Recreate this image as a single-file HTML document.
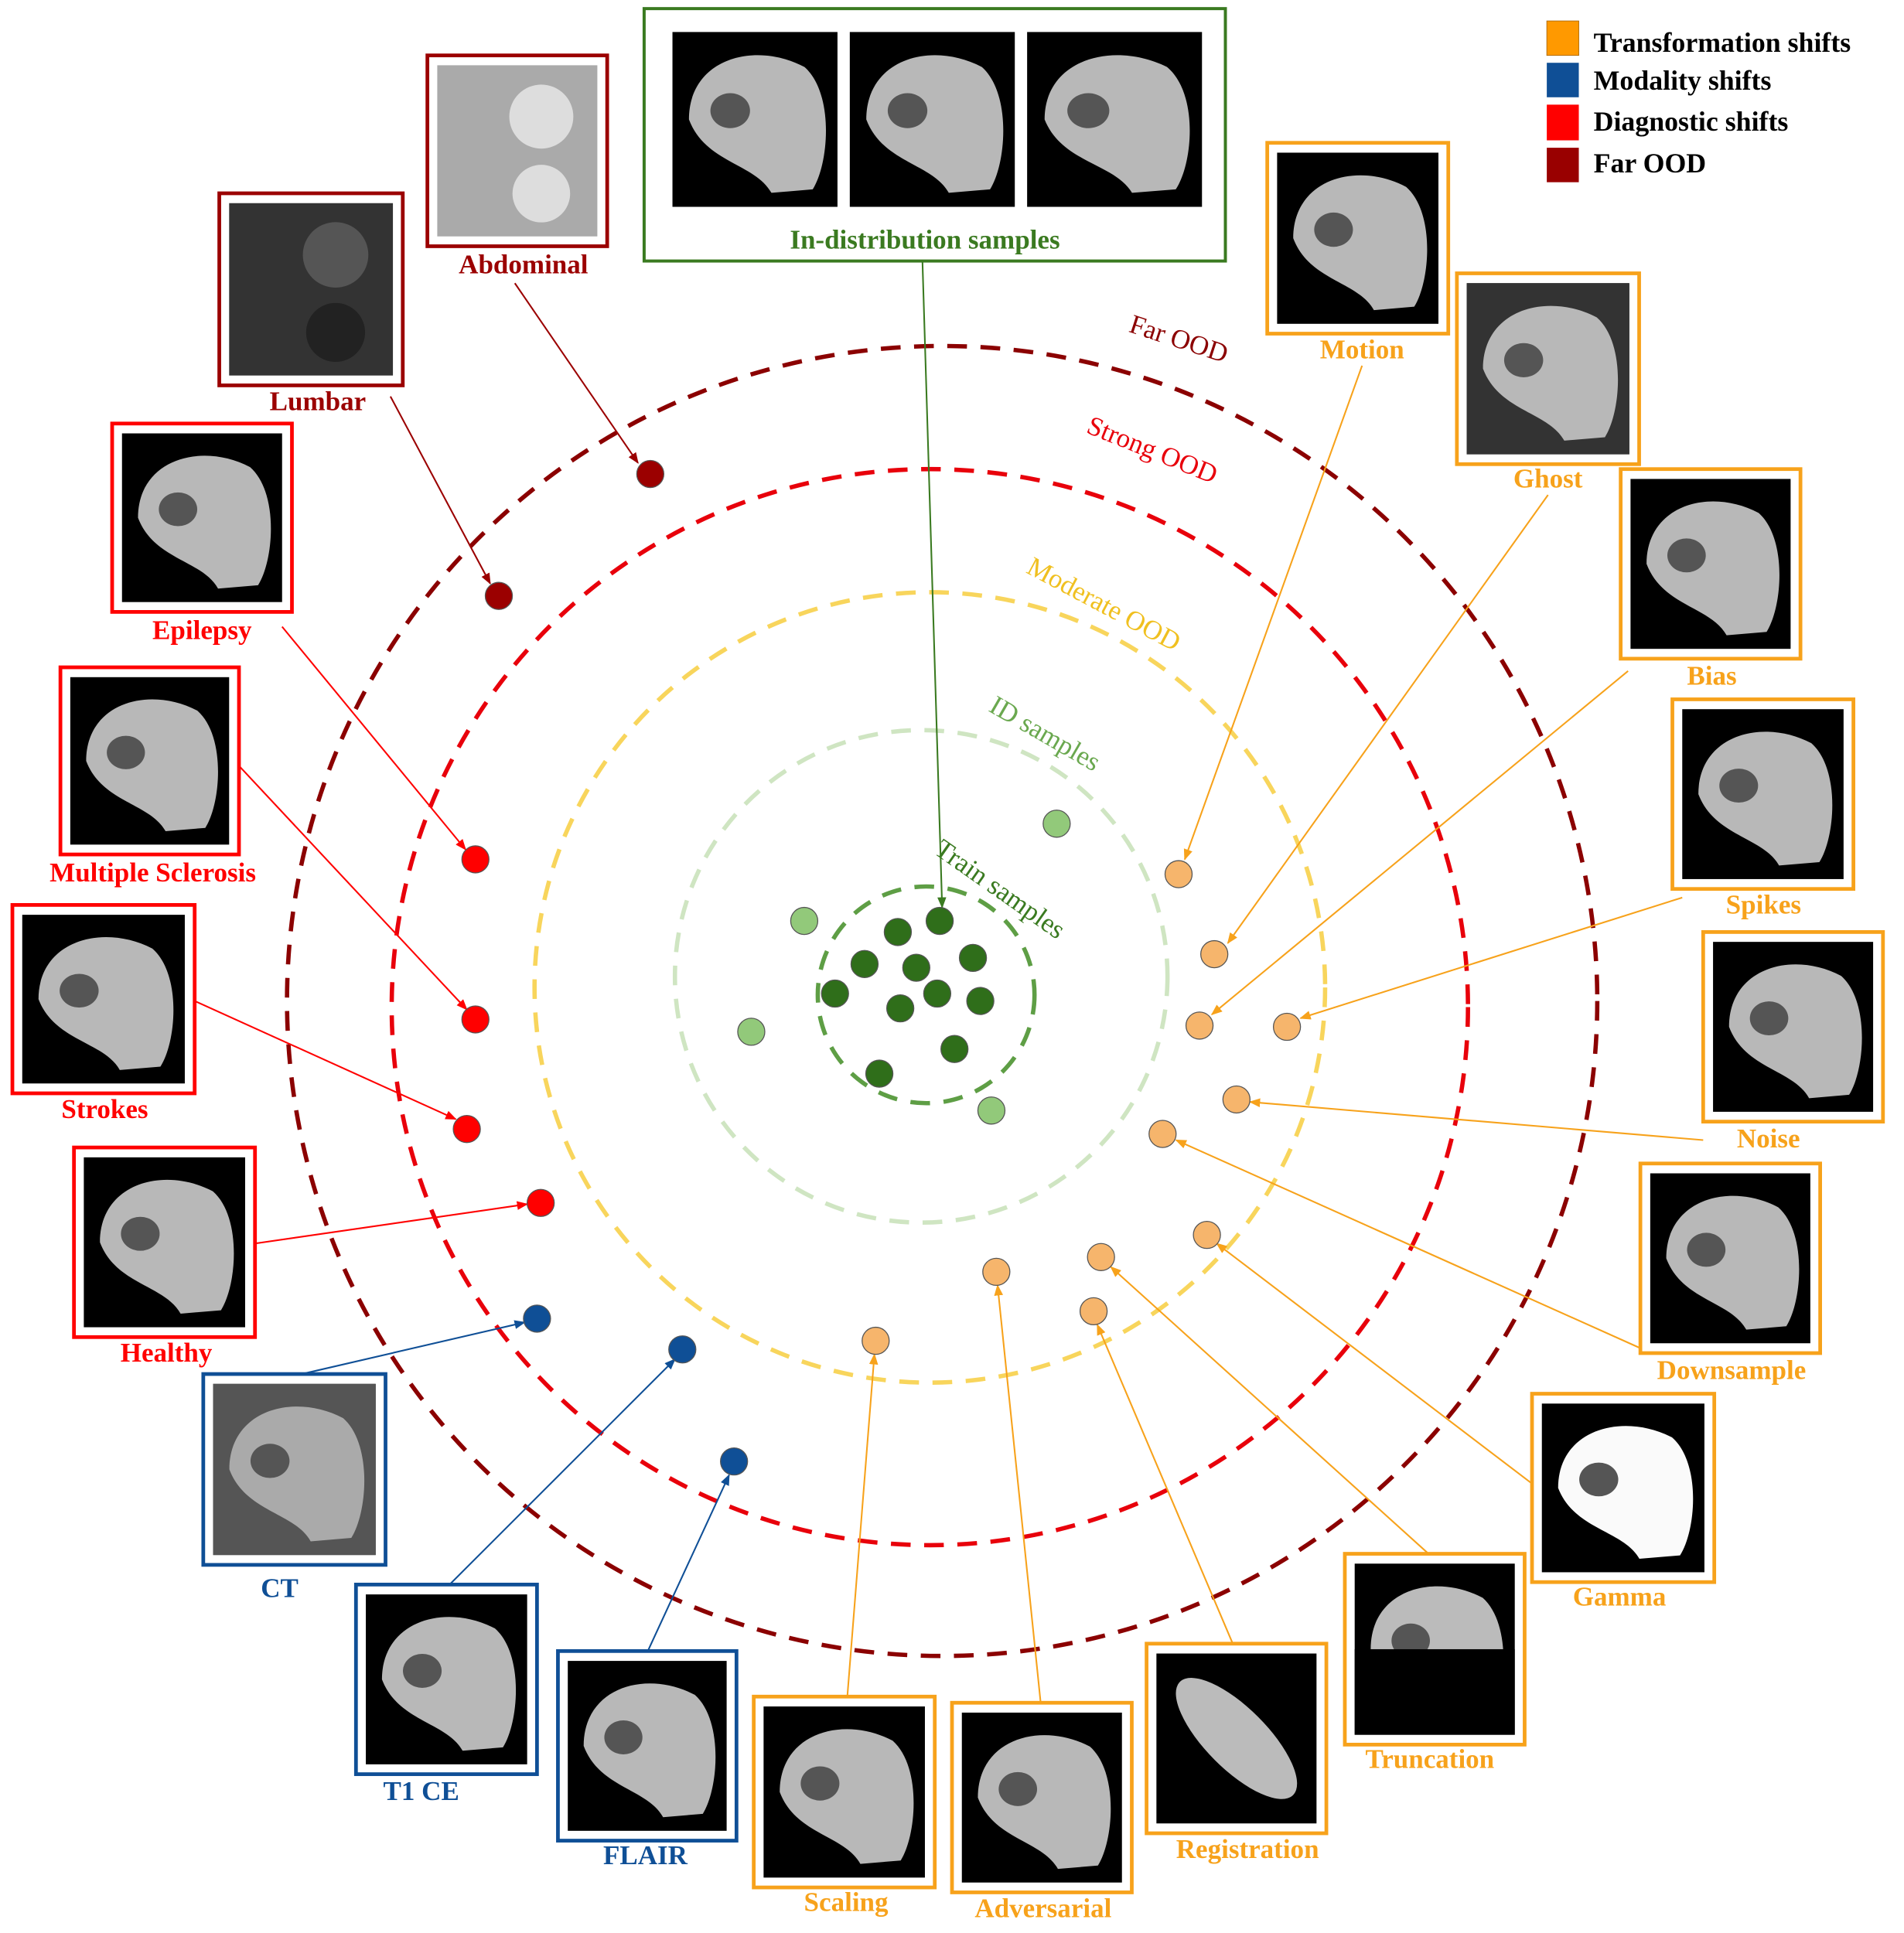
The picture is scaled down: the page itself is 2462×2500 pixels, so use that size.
<!DOCTYPE html>
<html><head><meta charset="utf-8"><style>
html,body{margin:0;padding:0;background:#fff;}
svg{display:block;font-family:"Liberation Serif",serif;}
</style></head><body>
<svg id="fig" width="2462" height="2500" viewBox="0 0 1546 1570" xmlns="http://www.w3.org/2000/svg">
<defs>
<marker id="ah" viewBox="0 0 10 10" refX="9" refY="5" markerWidth="7" markerHeight="7" orient="auto-start-reverse"><path d="M0,1 L10,5 L0,9 z" fill="context-stroke"/></marker>
</defs>
<g id="rings"></g>
<g id="arrows"></g>
<g id="dots"></g>
<g id="thumbs"></g>
<g font-size="22">
<text x="955" y="282" fill="#8b0000" text-anchor="middle" transform="rotate(18 955 282)">Far OOD</text>
<text x="933" y="372" fill="#e8000b" text-anchor="middle" transform="rotate(22 933 372)">Strong OOD</text>
<text x="893" y="497" fill="#f0c020" text-anchor="middle" transform="rotate(28 893 497)">Moderate OOD</text>
<text x="845" y="602" fill="#6aa84f" text-anchor="middle" transform="rotate(30 845 602)">ID samples</text>
<text x="808" y="728" fill="#3a7a20" text-anchor="middle" transform="rotate(35 808 728)">Train samples</text>
</g>
<g font-weight="bold" font-size="22.5" fill="#000">
<rect x="1256" y="17" width="26" height="28" fill="#ff9900" stroke="#a06000" stroke-width="0.5"/>
<text x="1294" y="42">Transformation shifts</text>
<rect x="1256" y="51" width="26" height="28" fill="#0f4f96"/>
<text x="1294" y="73">Modality shifts</text>
<rect x="1256" y="85" width="26" height="29" fill="#ff0000"/>
<text x="1294" y="106">Diagnostic shifts</text>
<rect x="1256" y="120" width="26" height="28" fill="#990000"/>
<text x="1294" y="140">Far OOD</text>
</g>
</svg>
<script>
const NS="http://www.w3.org/2000/svg";
function mk(t,a,p){const e=document.createElementNS(NS,t);for(const k in a)e.setAttribute(k,a[k]);p.appendChild(e);return e;}
const ringNames=["far-ood-ring","strong-ood-ring","moderate-ood-ring","id-ring","train-ring"];
const ringGeom=[[765,813,532],[755,818,437],[755,802,321],[748,793,200],[752,808,88]];
const ringColors=["#8b0000","#e8000b","#f8d55c","#cfe5c2","#5e9e45"];
const rg=document.getElementById('rings');
ringGeom.forEach((g,i)=>{const c=mk('circle',{cx:g[0],cy:g[1],r:g[2],fill:'none',stroke:ringColors[i],'stroke-width':3.5,'stroke-dasharray':'16 11'},rg);

});
const trainDots=[[729,757],[763,748],[702,783],[744,786],[790,778],[678,807],[761,807],[796,813],[731,819],[775,852],[714,872]];
const idDots=[[858,669],[653,748],[610,838],[805,902]];
const transDots=[[957,710],[986,775],[974,833],[1045,834],[1004,893],[944,921],[980,1003],[894,1021],[809,1033],[888,1065],[711,1089]];
const diagDots=[[386,698],[386,828],[379,917],[439,977]];
const farDots=[[528,385],[405,484]];
const modDots=[[436,1071],[554,1096],[596,1187]];
const dg=document.getElementById('dots');
[[trainDots,'#2f6e1a','train'],[idDots,'#92c97a','id'],[transDots,'#f6b56c','transformation'],[diagDots,'#ff0000','diagnostic'],[farDots,'#9b0000','far-ood'],[modDots,'#0f4f96','modality']].forEach(([arr,col,n])=>{
arr.forEach(p=>{const c=mk('circle',{cx:p[0],cy:p[1],r:11,fill:col,stroke:'#555','stroke-width':0.8},dg);

});});
const thumbs=[
["Abdominal",347,45,493,200,425,222,"#9b0000","abd"],
["Lumbar",178,157,327,313,258,333,"#9b0000","lum"],
["Epilepsy",91,344,237,497,164,519,"#ff0000","b"],
["Multiple Sclerosis",49,542,194,694,124,716,"#ff0000","b"],
["Strokes",10,735,158,888,85,908,"#ff0000","b"],
["Healthy",60,932,207,1086,135,1106,"#ff0000","b"],
["CT",165,1116,313,1271,227,1297,"#0f4f96","ct"],
["T1 CE",289,1287,436,1441,342,1462,"#0f4f96","b"],
["FLAIR",453,1341,598,1495,524,1514,"#0f4f96","b"],
["Scaling",612,1378,759,1533,687,1552,"#f7a21b","b"],
["Adversarial",773,1383,919,1537,847,1557,"#f7a21b","b"],
["Registration",931,1335,1077,1489,1013,1509,"#f7a21b","reg"],
["Truncation",1092,1262,1238,1417,1161,1436,"#f7a21b","trunc"],
["Gamma",1244,1132,1392,1285,1315,1304,"#f7a21b","gamma"],
["Downsample",1332,945,1478,1099,1406,1120,"#f7a21b","b"],
["Noise",1383,757,1529,911,1436,932,"#f7a21b","b"],
["Spikes",1358,568,1505,722,1432,742,"#f7a21b","b"],
["Bias",1316,381,1462,535,1390,556,"#f7a21b","b"],
["Ghost",1183,222,1331,377,1257,396,"#f7a21b","ghost"],
["Motion",1029,116,1176,271,1106,291,"#f7a21b","b"]];
const tg=document.getElementById('thumbs');
function brain(g,x,y,w,h,fill){
 mk('path',{d:`M${x+w*0.1},${y+h*0.5} C${x+w*0.1},${y+h*0.15} ${x+w*0.5},${y+h*0.05} ${x+w*0.8},${y+h*0.2} C${x+w*0.98},${y+h*0.35} ${x+w*0.95},${y+h*0.75} ${x+w*0.85},${y+h*0.9} L${x+w*0.6},${y+h*0.92} C${x+w*0.5},${y+h*0.75} ${x+w*0.2},${y+h*0.75} ${x+w*0.1},${y+h*0.5} z`,fill:fill},g);
 mk('ellipse',{cx:x+w*0.35,cy:y+h*0.45,rx:w*0.12,ry:h*0.1,fill:'#555'},g);
}
function image(g,x,y,w,h,type){
 if(type==='abd'||type==='lum'){mk('rect',{x,y,width:w,height:h,fill:type==='abd'?'#aaa':'#333'},g);
  mk('circle',{cx:x+w*0.65,cy:y+h*0.3,r:w*0.2,fill:type==='abd'?'#ddd':'#555'},g);mk('circle',{cx:x+w*0.65,cy:y+h*0.75,r:w*0.18,fill:type==='abd'?'#ddd':'#222'},g);return;}
 mk('rect',{x,y,width:w,height:h,fill:'#000'},g);
 if(type==='ct'){mk('rect',{x,y,width:w,height:h,fill:'#555'},g);brain(g,x,y,w,h,'#aaa');return;}
 if(type==='gamma'){brain(g,x,y,w,h,'#fafafa');return;}
 if(type==='reg'){mk('ellipse',{cx:x+w*0.5,cy:y+h*0.5,rx:w*0.5,ry:h*0.18,transform:`rotate(45 ${x+w*0.5} ${y+h*0.5})`,fill:'#bbb'},g);return;}
 if(type==='trunc'){brain(g,x,y,w,h,'#bbb');mk('rect',{x,y:y+h*0.5,width:w,height:h*0.5,fill:'#000'},g);return;}
 if(type==='ghost'){mk('rect',{x,y,width:w,height:h,fill:'#333'},g);}
 brain(g,x,y,w,h,'#b8b8b8');
}
thumbs.forEach(t=>{const [n,x1,y1,x2,y2,lx,ly,col,type]=t;
 const g=mk('g',{},tg);
 
 
 mk('rect',{x:x1,y:y1,width:x2-x1,height:y2-y1,fill:'#fff',stroke:col,'stroke-width':3},g);
 image(g,x1+8,y1+8,x2-x1-16,y2-y1-16-(ly-y2<15?16:0),type);
 const tx=mk('text',{x:lx,y:ly,'text-anchor':'middle','font-weight':'bold','font-size':22,fill:col},g);
 tx.textContent=n;
 
 
});
const idg=mk('g',{},tg);


mk('rect',{x:523,y:7,width:472,height:205,fill:'#fff',stroke:'#3a7a20','stroke-width':2.5},idg);
[[546,26,134,142],[690,26,134,142],[834,26,142,142]].forEach(r=>image(idg,r[0],r[1],r[2],r[3],'b'));
const idt=mk('text',{x:751,y:202,'text-anchor':'middle','font-weight':'bold','font-size':22,fill:'#3a7a20'},idg);
idt.textContent='In-distribution samples';


const arrows=[[749,212,765,737,'#3a7a20'],[418,230,518,376,'#9b0000'],[317,322,398,474,'#9b0000'],
[229,509,378,690,'#ff0000'],[194,622,379,820,'#ff0000'],[158,813,370,909,'#ff0000'],[207,1010,428,978,'#ff0000'],
[245,1116,426,1074,'#0f4f96'],[365,1287,548,1104,'#0f4f96'],[526,1341,592,1198,'#0f4f96'],
[688,1378,710,1100,'#f7a21b'],[845,1383,810,1044,'#f7a21b'],[1001,1335,891,1076,'#f7a21b'],[1160,1262,902,1029,'#f7a21b'],
[1244,1205,988,1010,'#f7a21b'],[1332,1095,955,926,'#f7a21b'],[1383,926,1015,895,'#f7a21b'],[1366,729,1056,827,'#f7a21b'],
[1322,545,984,824,'#f7a21b'],[1257,402,997,766,'#f7a21b'],[1106,297,962,698,'#f7a21b']];
const ag=document.getElementById('arrows');
arrows.forEach(a=>{const l=mk('line',{x1:a[0],y1:a[1],x2:a[2],y2:a[3],stroke:a[4],'stroke-width':1.3,'marker-end':'url(#ah)'},ag);

});
</script>
</body></html>
